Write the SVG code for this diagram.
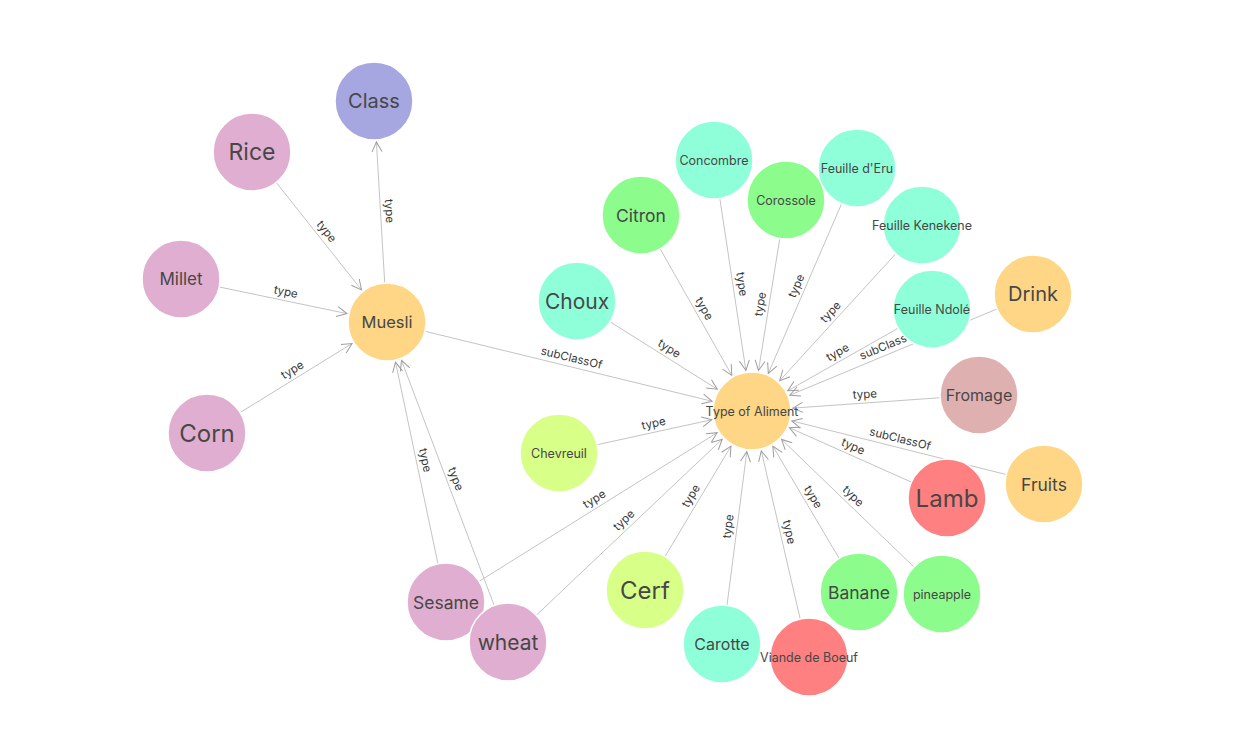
<svg xmlns="http://www.w3.org/2000/svg" width="1252" height="732" viewBox="0 0 1252 732">
<style>
.e line{stroke:#c4c4c4;stroke-width:1;marker-end:url(#arr)}
.lbl{font-family:Inter,"Open Sans","Liberation Sans",sans-serif;font-size:11.5px;fill:#383838;text-anchor:middle}
.n circle{stroke:#ffffff;stroke-width:1.5}
.n text{font-family:Inter,"Open Sans","Liberation Sans",sans-serif;fill:#474747;text-anchor:middle;dominant-baseline:central}
.pink{fill:#e0aed0}.yel{fill:#ffd685}.aqua{fill:#8fffd9}.grn{fill:#8cfc8c}.red{fill:#ff8080}.cls{fill:#a6a6e0}.rose{fill:#dfb0b0}.lime{fill:#d8ff88}
</style>
<defs>
<marker id="arr" viewBox="-12 -7 14 14" refX="0" refY="0" markerWidth="14" markerHeight="14" markerUnits="userSpaceOnUse" orient="auto">
<path d="M-10,-5 L0,0 L-10,5" fill="none" stroke="#9e9e9e" stroke-width="1"/>
</marker>
</defs>
<rect width="1252" height="732" fill="#ffffff"/>
<g id="connectors" class="e">
<line x1="387" y1="322" x2="376.4" y2="141.9"/>
<line x1="252" y1="152" x2="361.5" y2="289.9"/>
<line x1="181" y1="279" x2="346.9" y2="313.6"/>
<line x1="207" y1="433" x2="352.1" y2="343.5"/>
<line x1="446" y1="602" x2="395.5" y2="362.1"/>
<line x1="508" y1="642" x2="401.5" y2="360.4"/>
<line x1="387" y1="322" x2="712.2" y2="401.3"/>
<line x1="577" y1="301" x2="717.3" y2="389.2"/>
<line x1="641" y1="215" x2="731.8" y2="375.3"/>
<line x1="714" y1="160" x2="745.9" y2="370.5"/>
<line x1="786" y1="200" x2="758.5" y2="370.5"/>
<line x1="857" y1="168" x2="768.3" y2="373.4"/>
<line x1="922" y1="225" x2="779.7" y2="380.7"/>
<line x1="932" y1="309" x2="787.7" y2="390.8"/>
<line x1="1033" y1="294" x2="789.8" y2="395.2"/>
<line x1="979" y1="395" x2="792.9" y2="408.1"/>
<line x1="1044" y1="484" x2="791.8" y2="420.9"/>
<line x1="947" y1="498" x2="789.4" y2="427.7"/>
<line x1="942" y1="594" x2="781.5" y2="439.4"/>
<line x1="859" y1="592" x2="772.9" y2="446.3"/>
<line x1="809" y1="657" x2="761.3" y2="450.9"/>
<line x1="722" y1="644" x2="746.8" y2="451.7"/>
<line x1="645" y1="590" x2="731" y2="446.2"/>
<line x1="559" y1="453" x2="711.9" y2="419.7"/>
<line x1="446" y1="602" x2="717.2" y2="432.7"/>
<line x1="508" y1="642" x2="722.2" y2="439.2"/>
<g class="lbl">
<text transform="translate(380.5,211.5) rotate(86.6)" y="-5">type</text>
<text transform="translate(319.5,237) rotate(51.55)" y="-5">type</text>
<text transform="translate(284,300.5) rotate(11.79)" y="-5">type</text>
<text transform="translate(297,377.5) rotate(-31.66)" y="-5">type</text>
<text transform="translate(416.5,462) rotate(78.1)" y="-5">type</text>
<text transform="translate(447.5,482) rotate(69.3)" y="-5">type</text>
<text transform="translate(569.5,366.5) rotate(13.7)" y="-5">subClassOf</text>
<text transform="translate(664.5,356) rotate(32.15)" y="-5">type</text>
<text transform="translate(696.5,313) rotate(60.48)" y="-5">type</text>
<text transform="translate(733,285.5) rotate(81.39)" y="-5">type</text>
<text transform="translate(769,305.5) rotate(-80.85)" y="-5">type</text>
<text transform="translate(804.5,289.5) rotate(-66.63)" y="-5">type</text>
<text transform="translate(837,318) rotate(-47.57)" y="-5">type</text>
<text transform="translate(842,360) rotate(-29.54)" y="-5">type</text>
<text transform="translate(892.5,352.5) rotate(-22.6)" y="-5">subClassOf</text>
<text transform="translate(865.5,403) rotate(-4.03)" y="-5">type</text>
<text transform="translate(898,447.5) rotate(14.04)" y="-5">subClassOf</text>
<text transform="translate(849.5,454.5) rotate(24.04)" y="-5">type</text>
<text transform="translate(847,502.5) rotate(43.92)" y="-5">type</text>
<text transform="translate(805.5,501.5) rotate(59.4)" y="-5">type</text>
<text transform="translate(780.5,534) rotate(76.95)" y="-5">type</text>
<text transform="translate(737,527.5) rotate(-82.66)" y="-5">type</text>
<text transform="translate(698.5,500.5) rotate(-59.13)" y="-5">type</text>
<text transform="translate(655.5,432) rotate(-12.28)" y="-5">type</text>
<text transform="translate(599,506.5) rotate(-31.97)" y="-5">type</text>
<text transform="translate(630,526.5) rotate(-43.43)" y="-5">type</text>
</g>
</g>
<g id="n-class" class="n"><circle class="cls" cx="374" cy="101" r="39"/><text x="374" y="101" font-size="20">Class</text></g>
<g id="n-rice" class="n"><circle class="pink" cx="252" cy="152" r="39"/><text x="252" y="152" font-size="23">Rice</text></g>
<g id="n-millet" class="n"><circle class="pink" cx="181" cy="279" r="39"/><text x="181" y="279" font-size="17">Millet</text></g>
<g id="n-corn" class="n"><circle class="pink" cx="207" cy="433" r="39"/><text x="207" y="433" font-size="24">Corn</text></g>
<g id="n-muesli" class="n"><circle class="yel" cx="387" cy="322" r="39"/><text x="387" y="322" font-size="16.5">Muesli</text></g>
<g id="n-choux" class="n"><circle class="aqua" cx="577" cy="301" r="39"/><text x="577" y="301" font-size="21">Choux</text></g>
<g id="n-citron" class="n"><circle class="grn" cx="641" cy="215" r="39"/><text x="641" y="215" font-size="17.5">Citron</text></g>
<g id="n-concombre" class="n"><circle class="aqua" cx="714" cy="160" r="39"/><text x="714" y="160" font-size="12.5">Concombre</text></g>
<g id="n-corossole" class="n"><circle class="grn" cx="786" cy="200" r="39"/><text x="786" y="200" font-size="12.5">Corossole</text></g>
<g id="n-feuille-eru" class="n"><circle class="aqua" cx="857" cy="168" r="39"/><text x="857" y="168" font-size="12.5">Feuille d'Eru</text></g>
<g id="n-feuille-kenekene" class="n"><circle class="aqua" cx="922" cy="225" r="39"/><text x="922" y="225" font-size="12.5">Feuille Kenekene</text></g>
<g id="n-drink" class="n"><circle class="yel" cx="1033" cy="294" r="39"/><text x="1033" y="294" font-size="20">Drink</text></g>
<g id="n-feuille-ndole" class="n"><circle class="aqua" cx="932" cy="309" r="39"/><text x="932" y="309" font-size="12.5">Feuille Ndolé</text></g>
<g id="n-fromage" class="n"><circle class="rose" cx="979" cy="395" r="39"/><text x="979" y="395" font-size="16">Fromage</text></g>
<g id="n-fruits" class="n"><circle class="yel" cx="1044" cy="484" r="39"/><text x="1044" y="484" font-size="17.5">Fruits</text></g>
<g id="n-lamb" class="n"><circle class="red" cx="947" cy="498" r="39"/><text x="947" y="498" font-size="24">Lamb</text></g>
<g id="n-pineapple" class="n"><circle class="grn" cx="942" cy="594" r="39"/><text x="942" y="594" font-size="12.5">pineapple</text></g>
<g id="n-banane" class="n"><circle class="grn" cx="859" cy="592" r="39"/><text x="859" y="592" font-size="17.5">Banane</text></g>
<g id="n-carotte" class="n"><circle class="aqua" cx="722" cy="644" r="39"/><text x="722" y="644" font-size="16">Carotte</text></g>
<g id="n-viande" class="n"><circle class="red" cx="809" cy="657" r="39"/><text x="809" y="657" font-size="12.5">Viande de Boeuf</text></g>
<g id="n-cerf" class="n"><circle class="lime" cx="645" cy="590" r="39"/><text x="645" y="590" font-size="24">Cerf</text></g>
<g id="n-chevreuil" class="n"><circle class="lime" cx="559" cy="453" r="39"/><text x="559" y="453" font-size="12.5">Chevreuil</text></g>
<g id="n-sesame" class="n"><circle class="pink" cx="446" cy="602" r="39"/><text x="446" y="602" font-size="17.5">Sesame</text></g>
<g id="n-wheat" class="n"><circle class="pink" cx="508" cy="642" r="39"/><text x="508" y="642" font-size="21">wheat</text></g>
<g id="n-type-of-aliment" class="n"><circle class="yel" cx="752" cy="411" r="39"/><text x="752" y="411" font-size="12.5">Type of Aliment</text></g>
</svg>
